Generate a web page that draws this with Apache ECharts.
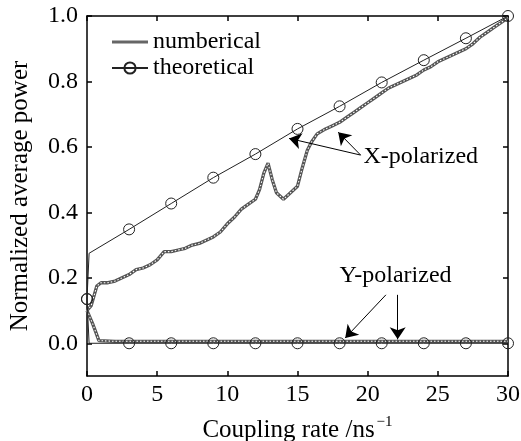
<!DOCTYPE html>
<html>
<head>
<meta charset="utf-8">
<script src="https://cdn.jsdelivr.net/npm/echarts@6/dist/echarts.min.js"></script>
<style>html,body{margin:0;padding:0;background:#fff}#c{width:521px;height:441px}</style>
</head>
<body>
<div id="c"></div>
<script>
// ---- data ----
const numX_x = [0,0.3,0.7,1,1.5,2,2.5,3,3.5,4,4.5,5,5.5,6,6.5,7,7.5,8,8.5,9,9.5,10,10.5,11,11.5,12,12.3,12.6,12.9,13.2,13.5,14,14.5,15,15.3,15.7,16,16.4,17,17.5,18,18.5,19,19.5,20,20.5,21,21.5,22,22.5,23,23.5,24,24.5,25,25.5,26,26.5,27,27.5,28,28.5,29,29.5,30];
const numX_y = [0.10,0.115,0.175,0.185,0.185,0.19,0.20,0.21,0.225,0.23,0.24,0.255,0.28,0.28,0.285,0.29,0.30,0.305,0.315,0.325,0.34,0.365,0.385,0.41,0.425,0.44,0.47,0.52,0.55,0.5,0.46,0.44,0.46,0.48,0.53,0.59,0.615,0.64,0.655,0.665,0.675,0.69,0.705,0.72,0.735,0.75,0.765,0.78,0.79,0.80,0.81,0.82,0.835,0.845,0.86,0.87,0.88,0.89,0.90,0.915,0.935,0.95,0.965,0.98,0.995];
const numY_x = [0,0.4,0.85,2,5,10,15,20,25,30];
const numY_y = [0.10,0.06,0.008,0.006,0.006,0.006,0.006,0.006,0.006,0.006];
const theo_x = [0,0.15,3,6,9,12,15,18,21,24,27,30];
const theoX_y = [0.135,0.275,0.348,0.427,0.506,0.578,0.655,0.724,0.797,0.865,0.932,1.0];
const theoY_y = [0.135,0.0,0.0,0.0,0.0,0.0,0.0,0.0,0.0,0.0,0.0,0.0];
const yTicks = [0,0.2,0.4,0.6,0.8,1.0];
// annotations in data coords
const xArrows = [[[19.5,0.575],[14.4,0.626]],[[19.5,0.575],[17.9,0.645]]];
const yArrows = [[[21.3,0.148],[18.4,0.016]],[[22.14,0.148],[22.14,0.012]]];
const xLabelAt = [19.7,0.569];
const yLabelAt = [18.0,0.206];

const FONT = "'Liberation Serif', 'Times New Roman', serif";
const zip = (a,b)=>a.map((v,i)=>[v,b[i]]);
const theoData = ys => theo_x.map((x,i)=> i===1 ? {value:[x,ys[i]], symbol:'none'} : {value:[x,ys[i]]});

const hatched = (name, data) => ([
  {name:name, type:'line', data:data, showSymbol:false, symbol:'none', z:2,
   lineStyle:{color:'#555', width:3.3}, itemStyle:{color:'#555'}},
  {type:'line', data:data, showSymbol:false, symbol:'none', z:3, silent:true,
   lineStyle:{color:'#fff', width:1.1, type:[1.5,2]}}
]);
const theo = (data) => ({
  name:'theoretical', type:'line', data:data, symbol:'circle', symbolSize:11, z:5,
  lineStyle:{color:'#222', width:1},
  itemStyle:{color:'rgba(0,0,0,0)', borderColor:'#222', borderWidth:1}
});

const chart = echarts.init(document.getElementById('c'));
const ax = {color:'#000', width:1.5};
chart.setOption({
  animation:false,
  backgroundColor:'#fff',
  textStyle:{fontFamily:FONT, color:'#000'},
  grid:{left:87, right:13, top:16, bottom:65, containLabel:false, outerBoundsMode:'none'},
  legend:{
    data:[{name:'numberical', icon:'path://M0,0 L36,0 L36,3 L0,3 Z', itemStyle:{color:'#666'}},
          {name:'theoretical'}],
    orient:'vertical', left:106, top:25,
    itemWidth:36, itemHeight:14, itemGap:2,
    textStyle:{fontFamily:FONT, fontSize:24, lineHeight:24, color:'#000'}
  },
  xAxis:[{
    type:'value', min:0, max:30, interval:5, position:'bottom',
    axisLine:{onZero:false, lineStyle:ax}, splitLine:{show:false},
    axisTick:{inside:true, length:5, lineStyle:ax},
    axisLabel:{fontFamily:FONT, fontSize:24, color:'#000', margin:7},
    name:'{a|Coupling rate /ns}{s|−1}', nameLocation:'middle', nameGap:39,
    nameTextStyle:{rich:{
      a:{fontFamily:FONT, fontSize:25, color:'#000'},
      s:{fontFamily:FONT, fontSize:15, color:'#000', padding:[0,0,16,2]}
    }}
  },{
    type:'value', min:0, max:30, interval:5, position:'top',
    axisLine:{show:true, onZero:false, lineStyle:ax}, splitLine:{show:false},
    axisTick:{inside:true, length:5, lineStyle:ax}, axisLabel:{show:false}
  }],
  yAxis:[{
    type:'value', min:-0.1, max:1.0, position:'left',
    axisLine:{show:true, onZero:false, lineStyle:ax}, splitLine:{show:false},
    axisTick:{inside:true, length:5, lineStyle:ax, customValues:yTicks},
    axisLabel:{fontFamily:FONT, fontSize:24, color:'#000', margin:9, customValues:yTicks,
      formatter:v=>v.toFixed(1)},
    name:'Normalized average power', nameLocation:'middle', nameGap:54,
    nameTextStyle:{fontFamily:FONT, fontSize:25, color:'#000'}
  },{
    type:'value', min:-0.1, max:1.0, position:'right',
    axisLine:{show:true, onZero:false, lineStyle:ax}, splitLine:{show:false},
    axisTick:{inside:true, length:5, lineStyle:ax, customValues:yTicks},
    axisLabel:{show:false, customValues:yTicks}
  }],
  series:[
    ...hatched('numberical', zip(numX_x,numX_y)),
    ...hatched('numberical', zip(numY_x,numY_y)),
    theo(theoData(theoX_y)),
    theo(theoData(theoY_y)),
    {type:'line', data:[], silent:true, z:10, itemStyle:{color:'#000'},
     markLine:{silent:true, symbol:['none','arrow'], symbolSize:12, animation:false,
       itemStyle:{color:'#000'},
       lineStyle:{color:'#000', width:1, type:'solid'}, label:{show:false},
       data:[...xArrows, ...yArrows].map(a=>[{coord:a[0]},{coord:a[1]}])},
     markPoint:{symbol:'circle', symbolSize:0, silent:true,
       label:{show:true, position:'right', distance:0, fontFamily:FONT, fontSize:24, color:'#000'},
       data:[{coord:xLabelAt, label:{formatter:'X-polarized'}},
             {coord:yLabelAt, label:{formatter:'Y-polarized'}}]}
    }
  ]
});
</script>
</body>
</html>
